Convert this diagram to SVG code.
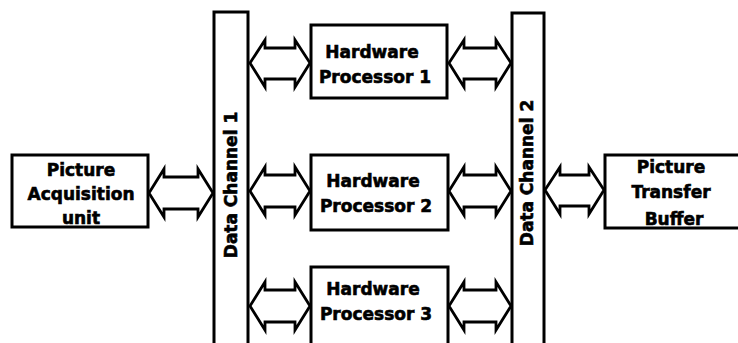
<svg xmlns="http://www.w3.org/2000/svg" width="738" height="343" viewBox="0 0 738 343">
<style>
.box{fill:#fff;stroke:#000;stroke-width:3}
.arr{fill:#fff;stroke:#000;stroke-width:2.8;stroke-linejoin:miter}
text{font-family:"DejaVu Sans","Liberation Sans",sans-serif;font-weight:bold;font-size:17px;fill:#000;stroke:#000;stroke-width:0.6;text-anchor:middle}
</style>
<rect width="738" height="343" fill="#fff"/>
<g id="channel1"><rect class="box" x="214" y="12" width="34" height="345"/><text transform="translate(237,185) rotate(-90)">Data Channel 1</text></g>
<g id="channel2"><rect class="box" x="512" y="13" width="32" height="345"/><text transform="translate(533,173) rotate(-90)">Data Channel 2</text></g>
<g id="acq"><rect class="box" x="12" y="155" width="136" height="72"/><text x="81" y="176">Picture</text><text x="81" y="200">Acquisition</text><text x="81" y="224">unit</text></g>
<g id="buffer"><rect class="box" x="605" y="155" width="145" height="73"/><text x="671" y="173">Picture</text><text x="671" y="198">Transfer</text><text x="674" y="225">Buffer</text></g>
<g id="hp1"><rect class="box" x="311" y="25" width="136" height="73"/><text x="372" y="58">Hardware</text><text x="375" y="83">Processor 1</text></g>
<g id="hp2"><rect class="box" x="311" y="155" width="137" height="75"/><text x="373" y="187">Hardware</text><text x="376" y="212">Processor 2</text></g>
<g id="hp3"><rect class="box" x="311" y="267" width="137" height="90"/><text x="373" y="295">Hardware</text><text x="376" y="320">Processor 3</text></g>
<g id="connectors">
<path class="arr" d="M149,193 L164,169 L164,177 L198,177 L198,169 L213,193 L198,217 L198,209 L164,209 L164,217 Z"/>
<path class="arr" d="M250,63 L265,40 L265,48 L295,48 L295,40 L310,63 L295,87 L295,79 L265,79 L265,87 Z"/>
<path class="arr" d="M449,63 L464,40 L464,48 L496,48 L496,40 L511,63 L496,87 L496,79 L464,79 L464,87 Z"/>
<path class="arr" d="M250,191 L265,167 L265,175 L295,175 L295,167 L310,191 L295,215 L295,207 L265,207 L265,215 Z"/>
<path class="arr" d="M449,191 L464,167 L464,175 L496,175 L496,167 L511,191 L496,215 L496,207 L464,207 L464,215 Z"/>
<path class="arr" d="M250,306 L265,282 L265,290 L295,290 L295,282 L310,306 L295,330 L295,322 L265,322 L265,330 Z"/>
<path class="arr" d="M449,306 L464,282 L464,290 L496,290 L496,282 L511,306 L496,330 L496,322 L464,322 L464,330 Z"/>
<path class="arr" d="M545,190 L560,167 L560,175 L589,175 L589,167 L604,190 L589,214 L589,206 L560,206 L560,214 Z"/>
</g>
</svg>
